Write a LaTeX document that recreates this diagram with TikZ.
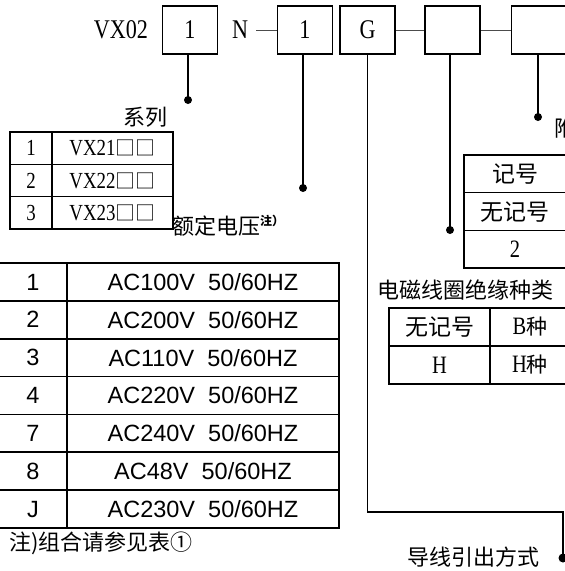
\documentclass[tikz,border=0pt]{standalone}
\usepackage{fontspec}
\newfontfamily\cjk{Noto Sans CJK SC}
\newfontfamily\ser[FakeStretch=0.82]{Liberation Serif}
\setsansfont{Liberation Sans}

\begin{document}
\begin{tikzpicture}[x=1pt, y=-1pt,
  code/.style={draw, line width=1.6pt, minimum width=55pt, minimum height=48pt, inner sep=0pt, font=\ser\fontsize{27}{27}\selectfont},
  lbl/.style={inner sep=1pt, font=\ser\fontsize{27}{27}\selectfont},
  cn/.style={inner sep=0pt, font=\cjk\fontsize{22}{24}\selectfont},
  scell/.style={draw, line width=1.5pt, minimum height=32.3pt, inner sep=0pt, font=\ser\fontsize{23}{23}\selectfont},
  vcell/.style={draw, line width=1.7pt, minimum height=37.9pt, inner sep=0pt, font=\sffamily\fontsize{23.5}{24}\selectfont},
  rcell/.style={draw, line width=1.5pt, minimum height=37.7pt, inner sep=0pt, font=\cjk\fontsize{23}{24}\selectfont},
  link/.style={draw=black!70, line width=1pt},
  wire/.style={line width=1.5pt}
]
\useasboundingbox (0,0) rectangle (565,571);
\node[lbl] (vx) at (121,30) {VX02};
\node[code] (bser) at (190,30) {1};
\node[lbl] (nlbl) at (240,30) {N};
\node[code] (bvolt) at (305,30) {1};
\node[code] (blead) at (367.5,30) {G};
\node[code] (bcoil) at (452.5,30) {};
\node[code] (bacc) at (539,30) {};
\draw[link, shorten <=7pt] (nlbl.east) -- (bvolt.west);
\draw[link] (blead.east) -- (bcoil.west);
\draw[link] (bcoil.east) -- (bacc.west);
\coordinate (dser) at (188,100);
\coordinate (dvolt) at (303,188);
\coordinate (dcoil) at (450,230);
\coordinate (dacc) at (538,117);
\coordinate (lbend) at (563,512);
\coordinate (dlead) at (563,558);
\foreach \b/\d in {bser/dser, bvolt/dvolt, bcoil/dcoil, bacc/dacc} {
  \draw[wire] (\b.south -| \d) -- (\d);
  \fill (\d) circle (4);
}
\draw[wire] (blead.south) |- (lbend) -- (dlead);
\fill (dlead) circle (4.5);
\node[cn] (lser) at (145,117) {系列};
\foreach \n [count=\i] in {1,2,3} {
  \node[scell, minimum width=42pt] (sn\i) at (31,115.85+32.3*\i) {\n};
  \node[scell, minimum width=121pt] (sm\i) at (112.5,115.85+32.3*\i) {VX2\n{\cjk\fontsize{20}{20}\selectfont □□}};
}
\node[cn, anchor=west] (lvolt) at (172,226) {额定电压\raisebox{9pt}{\fontsize{12}{12}\selectfont\bfseries 注）}};
\foreach \n/\volt [count=\i] in {1/100,2/200,3/110,4/220,7/240,8/48,J/230} {
  \node[vcell, minimum width=68pt] (vn\i) at (33,244.07+37.86*\i) {\n};
  \node[vcell, minimum width=272pt] (vv\i) at (203,244.07+37.86*\i) {AC\volt V\ \ 50/60HZ};
}
\node[cn, anchor=west] (note) at (9,543) {注)组合请参见表①};
\node[cn, anchor=west] (lacc) at (554,128) {附};
\foreach \t [count=\i] in {记号,无记号,{\ser\fontsize{25}{25}\selectfont 2}} {
  \node[rcell, minimum width=102pt] (ac\i) at (515,136.15+37.7*\i) {\t};
}
\node[cn, anchor=west] (lcoil) at (377,290) {电磁线圈绝缘种类};
\node[rcell, minimum width=101pt] (ci1) at (439.5,327) {无记号};
\node[rcell, minimum width=80pt] (ct1) at (530,327) {{\ser\fontsize{25}{25}\selectfont B}{\fontsize{21}{21}\selectfont 种}};
\node[rcell, minimum width=101pt] (ci2) at (439.5,365) {{\ser\fontsize{25}{25}\selectfont H}};
\node[rcell, minimum width=80pt] (ct2) at (530,365) {{\ser\fontsize{25}{25}\selectfont H}{\fontsize{21}{21}\selectfont 种}};
\node[cn] (llead) at (473,557) {导线引出方式};
\end{tikzpicture}
\end{document}
